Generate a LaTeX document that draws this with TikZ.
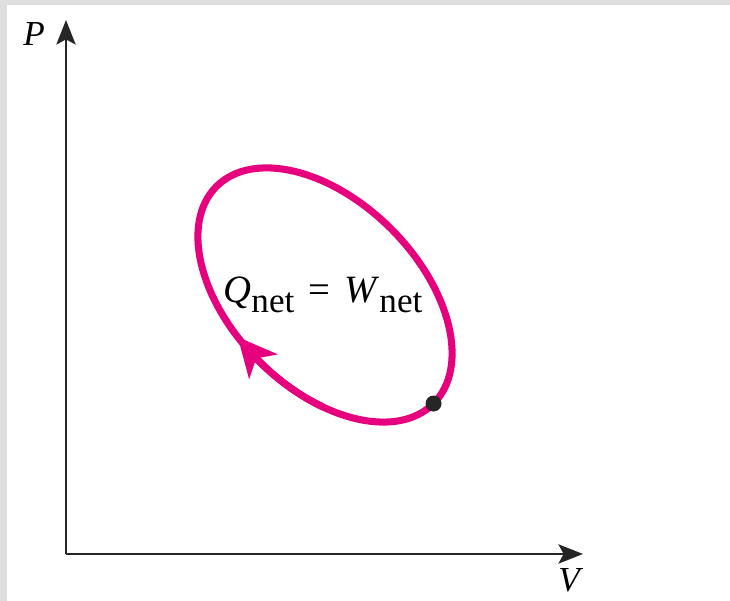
\documentclass[tikz,border=0pt]{standalone}
\usepackage{fontspec}
\setmainfont{Liberation Serif}
\usetikzlibrary{arrows.meta, bending}
\definecolor{cycleMagenta}{RGB}{230,0,126}
\definecolor{frameGray}{RGB}{222,222,222}
\newcommand{\pvsub}[1]{\raisebox{-5.5pt}{\fontsize{20}{22}\selectfont #1}}
\tikzset{
  pvAxis/.style  = {-{Stealth[length=14pt, width=11pt, inset=3pt]}, line width=1.1pt, draw=black!85},
  pvCycle/.style = {draw=cycleMagenta, line width=4pt},
  pvLabel/.style = {font=\fontsize{20}{24}\selectfont\itshape, inner sep=0pt},
}

\begin{document}
\begin{tikzpicture}
  % frame
  \fill[frameGray] (0,0) rectangle (14.6,12.02);
  \fill[white] (0.14,0) rectangle (14.6,11.92);
  \useasboundingbox (0,0) rectangle (14.6,12.02);
  % axes
  \coordinate (o) at (1.32,0.94);
  \coordinate (ptop) at (1.32,11.62);
  \coordinate (vend) at (11.66,0.94);
  \draw[pvAxis] (o) -- (ptop);
  \draw[pvAxis] (o) -- (vend);
  \node[pvLabel] (plab) at (0.68,11.34) {P};
  \node[pvLabel] (vlab) at (11.38,0.42) {V};
  % cycle
  \begin{scope}[shift={(6.5,6.12)}, rotate=-45]
    \draw[pvCycle] (0,0) ellipse [x radius=3.07, y radius=1.87];
    \draw[pvCycle, -{Stealth[length=22pt, width=21pt, inset=6pt, flex]}]
      (300:3.07 and 1.87) arc[start angle=300, end angle=258, x radius=3.07, y radius=1.87];
    \coordinate (state) at (0:3.07 and 1.87);
  \end{scope}
  \fill[black!85] (state) circle (0.16);
  \node[font=\fontsize{22}{26}\selectfont, inner sep=0pt] (eq) at (6.46,6.12)
    {\textit{Q}\pvsub{net}\hspace{2.5pt} = \hspace{2.5pt}\textit{W}\pvsub{net}};
\end{tikzpicture}
\end{document}
